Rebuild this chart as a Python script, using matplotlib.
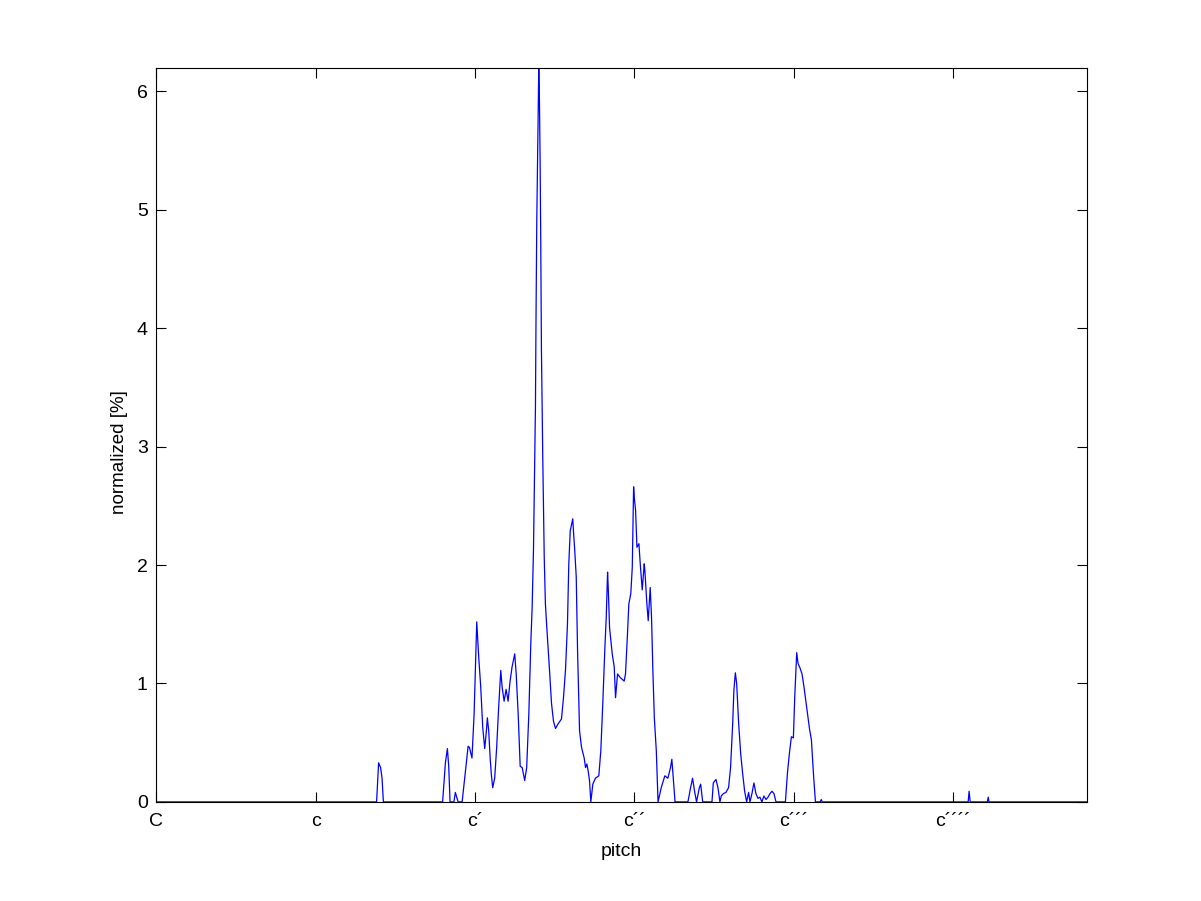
import matplotlib
matplotlib.use('Agg')
import matplotlib.pyplot as plt

# pitch in semitones above C, value in percent (vertices)
pitch = [0.00, 16.60, 16.75, 16.90, 17.01, 17.11,
         21.57, 21.78, 21.93, 22.03, 22.13, 22.42, 22.53, 22.63, 22.74,
         23.04, 23.29, 23.49, 23.59, 23.78, 23.94, 24.09, 24.14, 24.19, 24.29,
         24.44, 24.59, 24.74, 24.85, 24.94, 25.04, 25.15, 25.24, 25.34, 25.49,
         25.64, 25.79, 25.95, 26.05, 26.20, 26.35, 26.50, 26.65, 26.80, 27.00,
         27.11, 27.26, 27.41, 27.56, 27.75, 27.90, 28.06, 28.21, 28.31, 28.41,
         28.46, 28.56, 28.60, 28.66, 28.76, 28.81, 28.86, 28.91, 28.96, 29.01,
         29.11, 29.22, 29.31, 29.46, 29.62, 29.77, 29.92, 30.07, 30.27, 30.52,
         30.67, 30.82, 30.97, 31.07, 31.18, 31.37, 31.42, 31.52, 31.63, 31.73,
         31.88, 32.03, 32.23, 32.33, 32.43, 32.53, 32.63, 32.73, 32.88, 33.08,
         33.33, 33.48, 33.63, 33.78, 33.89, 33.99, 34.04, 34.14, 34.34, 34.49,
         34.59, 34.74, 34.94, 35.24, 35.34, 35.49, 35.59, 35.74, 35.85, 35.95,
         36.00, 36.10, 36.20, 36.35, 36.45, 36.60, 36.75, 36.80, 36.95, 37.05,
         37.20, 37.30, 37.40, 37.51, 37.66, 37.79, 38.03, 38.30, 38.53, 38.73,
         38.83, 38.94, 39.07, 40.04, 40.24, 40.39, 40.54, 40.69, 40.90, 41.00,
         41.15, 41.85, 41.95, 42.15, 42.30, 42.45, 42.55, 42.71, 42.90, 43.10,
         43.25, 43.41, 43.50, 43.61, 43.71, 43.86, 44.01, 44.16, 44.31, 44.46,
         44.61, 44.71, 44.86, 45.01, 45.16, 45.31, 45.46, 45.61, 45.76, 45.92,
         46.07, 46.22, 46.37, 46.52, 46.67, 47.38, 47.53, 47.68, 47.83, 47.98,
         48.08, 48.23, 48.33, 48.48, 48.63, 48.78, 48.98, 49.19, 49.34, 49.49,
         49.64, 50.00, 50.08, 50.15, 61.14, 61.21, 61.29, 62.58, 62.65, 62.71,
         70.08]
share = [0.00, 0.00, 0.33, 0.29, 0.20, 0.00,
         0.00, 0.33, 0.45, 0.30, 0.00, 0.00, 0.08, 0.04, 0.00,
         0.00, 0.26, 0.47, 0.46, 0.37, 0.74, 1.34, 1.52, 1.42, 1.22,
         0.97, 0.63, 0.45, 0.58, 0.71, 0.60, 0.37, 0.23, 0.12, 0.20,
         0.46, 0.80, 1.11, 0.97, 0.85, 0.95, 0.85, 1.02, 1.14, 1.25,
         1.08, 0.74, 0.30, 0.29, 0.18, 0.29, 0.74, 1.34, 1.64, 2.12,
         2.55, 3.34, 4.05, 4.91, 5.76, 6.20, 5.93, 5.42, 4.72, 3.82,
         2.91, 2.07, 1.67, 1.39, 1.11, 0.83, 0.68, 0.62, 0.66, 0.70,
         0.88, 1.11, 1.50, 2.01, 2.29, 2.39, 2.29, 2.12, 1.90, 1.28,
         0.60, 0.46, 0.37, 0.29, 0.32, 0.26, 0.18, 0.00, 0.15, 0.20,
         0.22, 0.43, 0.83, 1.28, 1.56, 1.94, 1.81, 1.47, 1.25, 1.14,
         0.88, 1.08, 1.05, 1.02, 1.08, 1.42, 1.67, 1.76, 1.98, 2.66,
         2.57, 2.46, 2.15, 2.18, 2.01, 1.79, 2.01, 1.95, 1.67, 1.53,
         1.81, 1.56, 1.11, 0.71, 0.43, 0.00, 0.12, 0.22, 0.20, 0.29,
         0.36, 0.20, 0.00, 0.00, 0.12, 0.20, 0.09, 0.00, 0.12, 0.15,
         0.00, 0.00, 0.16, 0.19, 0.12, 0.00, 0.05, 0.07, 0.08, 0.12,
         0.29, 0.66, 0.94, 1.09, 1.00, 0.66, 0.41, 0.24, 0.09, 0.00,
         0.08, 0.00, 0.07, 0.16, 0.07, 0.03, 0.04, 0.00, 0.05, 0.02,
         0.04, 0.07, 0.09, 0.07, 0.00, 0.00, 0.24, 0.41, 0.55, 0.54,
         0.88, 1.26, 1.17, 1.13, 1.08, 0.97, 0.80, 0.62, 0.52, 0.24,
         0.00, 0.00, 0.02, 0.00, 0.00, 0.09, 0.00, 0.00, 0.04, 0.00,
         0.00]

octave_ticks = [0, 12, 24, 36, 48, 60]
octave_labels = ['C', 'c', 'c\u00b4', 'c\u00b4\u00b4', 'c\u00b4\u00b4\u00b4', 'c\u00b4\u00b4\u00b4\u00b4']
y_ticks = [0, 1, 2, 3, 4, 5, 6]

plt.rcParams['font.family'] = ['Liberation Sans', 'DejaVu Sans']
plt.rcParams['font.size'] = 14

fig = plt.figure(figsize=(12.01, 9.01), dpi=100)
ax = fig.add_axes([0.13, 0.11, 0.775, 0.815])

ax.plot(pitch, share, color='#0000ff', linewidth=0.9)

ax.set_xlim(0, 70.08)
ax.set_ylim(0, 6.2)
ax.set_xticks(octave_ticks)
ax.set_xticklabels(octave_labels)
ax.set_yticks(y_ticks)
ax.tick_params(direction='in', length=7, width=0.8, top=True, right=True,
               colors='black')
ax.tick_params(axis='x', pad=8)
ax.tick_params(axis='y', pad=6)
for s in ax.spines.values():
    s.set_linewidth(0.8)

ax.set_xlabel('pitch', labelpad=9)
ax.set_ylabel('normalized [%]', fontsize=13.5)
ax.yaxis.set_label_coords(-0.03, 0.477)

fig.savefig('out.png', dpi=100)
